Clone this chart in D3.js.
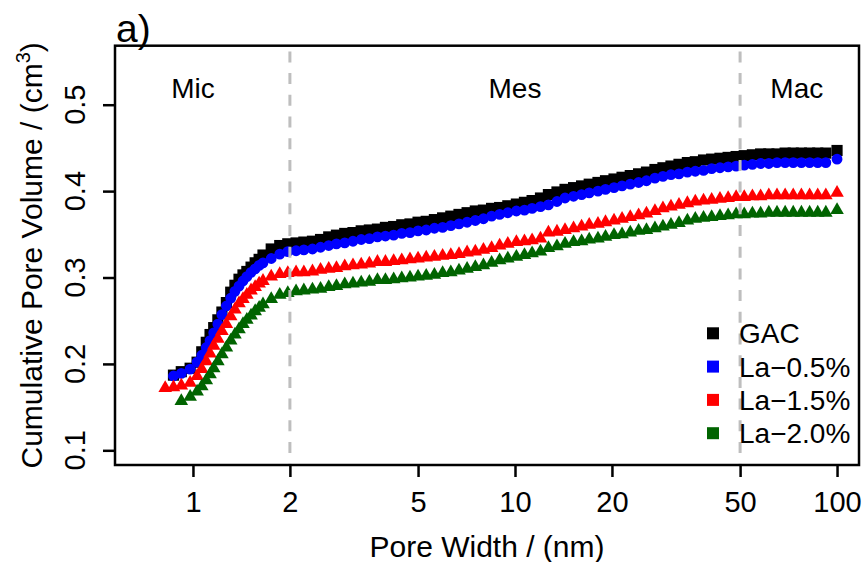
<!DOCTYPE html>
<html>
<head>
<meta charset="utf-8">
<script src="https://cdn.jsdelivr.net/npm/d3@7"></script>
<style>
  body { margin: 0; background: #fff; }
  svg { display: block; font-family: "Liberation Sans", Arial, Helvetica, sans-serif; }
</style>
</head>
<body>
<svg width="864" height="562"></svg>
<script>
// pore width (nm) and cumulative pore volume for each sample
var poreWidth = [0.82, 0.87, 0.92, 0.98, 1.03, 1.065, 1.10, 1.13, 1.16, 1.195,
  1.23, 1.27, 1.31, 1.35, 1.39, 1.43, 1.47, 1.515, 1.56, 1.605,
  1.65, 1.75, 1.86, 1.97, 2.09, 2.21, 2.35, 2.49,
  2.64, 2.79, 2.96, 3.14, 3.33, 3.53, 3.74, 3.96, 4.20, 4.45,
  4.72, 5.00, 5.30, 5.62, 5.96, 6.32, 6.70, 7.10, 7.53, 7.98,
  8.46, 8.96, 9.50, 10.1, 10.7, 11.3, 12.0, 12.7, 13.5, 14.3,
  15.2, 16.1, 17.0, 18.1, 19.1, 20.3, 21.5, 22.8, 24.2, 25.6,
  27.2, 28.8, 30.5, 32.3, 34.3, 36.3, 38.5, 40.8, 43.3, 45.9,
  48.6, 51.5, 54.6, 57.9, 61.4, 65.1, 69.0, 73.1, 77.5, 82.2,
  87.1, 92.3, 100];

var gac = [null, 0.187, 0.191, 0.195, 0.202, 0.214, 0.225, 0.234, 0.242, 0.251,
  0.260, 0.271, 0.283, 0.291, 0.298, 0.303, 0.307, 0.312, 0.317, 0.321,
  0.326, 0.333, 0.337, 0.339, 0.340, 0.341, 0.342, 0.344,
  0.347, 0.349, 0.351, 0.352, 0.354, 0.355, 0.356, 0.358, 0.359, 0.361,
  0.362, 0.364, 0.365, 0.367, 0.369, 0.371, 0.373, 0.375, 0.377, 0.378,
  0.380, 0.381, 0.383, 0.385, 0.387, 0.389, 0.392, 0.396, 0.399, 0.402,
  0.404, 0.406, 0.408, 0.410, 0.412, 0.414, 0.416, 0.418, 0.420, 0.422,
  0.425, 0.427, 0.429, 0.431, 0.433, 0.434, 0.436, 0.437, 0.438, 0.439,
  0.440, 0.441, 0.442, 0.443, 0.443, 0.443, 0.444, 0.444, 0.444, 0.444,
  0.444, 0.444, 0.447];

var la05 = [null, 0.186, 0.189, 0.194, 0.202, 0.210, 0.219, 0.227, 0.236, 0.246,
  0.257, 0.267, 0.276, 0.284, 0.290, 0.296, 0.301, 0.306, 0.310, 0.314,
  0.317, 0.322, 0.327, 0.330, 0.331, 0.332, 0.333, 0.335,
  0.337, 0.339, 0.340, 0.342, 0.344, 0.345, 0.347, 0.348, 0.349, 0.351,
  0.352, 0.354, 0.355, 0.357, 0.358, 0.360, 0.362, 0.364, 0.366, 0.368,
  0.371, 0.373, 0.375, 0.377, 0.378, 0.380, 0.382, 0.384, 0.388, 0.392,
  0.394, 0.396, 0.398, 0.400, 0.402, 0.404, 0.406, 0.408, 0.410, 0.412,
  0.415, 0.417, 0.419, 0.420, 0.422, 0.423, 0.424, 0.426, 0.427, 0.428,
  0.429, 0.430, 0.431, 0.432, 0.432, 0.433, 0.433, 0.433, 0.433, 0.433,
  0.433, 0.433, 0.437];

var la15 = [0.172, 0.173, 0.175, 0.178, 0.186, 0.194, 0.203, 0.212, 0.221, 0.229,
  0.238, 0.246, 0.255, 0.263, 0.270, 0.275, 0.280, 0.285, 0.289, 0.293,
  0.296, 0.301, 0.304, 0.305, 0.306, 0.306, 0.307, 0.309,
  0.310, 0.311, 0.313, 0.314, 0.315, 0.316, 0.318, 0.318, 0.319, 0.320,
  0.321, 0.322, 0.323, 0.324, 0.325, 0.326, 0.327, 0.329, 0.330, 0.332,
  0.334, 0.337, 0.339, 0.341, 0.342, 0.343, 0.345, 0.352, 0.353, 0.355,
  0.357, 0.359, 0.361, 0.362, 0.364, 0.366, 0.368, 0.370, 0.372, 0.374,
  0.377, 0.380, 0.382, 0.384, 0.386, 0.388, 0.389, 0.390, 0.391, 0.392,
  0.393, 0.393, 0.394, 0.394, 0.395, 0.395, 0.395, 0.395, 0.395, 0.395,
  0.395, 0.395, 0.398];

var la20 = [null, null, 0.157, 0.162, 0.168, 0.174, 0.181, 0.188, 0.195, 0.203,
  0.211, 0.219, 0.227, 0.234, 0.240, 0.246, 0.251, 0.256, 0.261, 0.265,
  0.269, 0.275, 0.280, 0.282, 0.284, 0.285, 0.286, 0.287,
  0.289, 0.290, 0.292, 0.293, 0.294, 0.295, 0.297, 0.297, 0.298, 0.299,
  0.300, 0.301, 0.302, 0.303, 0.305, 0.306, 0.308, 0.310, 0.312, 0.314,
  0.317, 0.320, 0.322, 0.324, 0.326, 0.328, 0.330, 0.334, 0.336, 0.339,
  0.341, 0.342, 0.344, 0.345, 0.347, 0.349, 0.350, 0.352, 0.354, 0.355,
  0.357, 0.359, 0.361, 0.363, 0.366, 0.368, 0.369, 0.370, 0.371, 0.372,
  0.373, 0.373, 0.374, 0.374, 0.375, 0.375, 0.375, 0.375, 0.375, 0.375,
  0.375, 0.375, 0.378];

var seriesNames = ["GAC", "La\u22120.5%", "La\u22121.5%", "La\u22122.0%"];
var seriesColors = ["#000000", "#0000ff", "#ff0000", "#006400"];
var xTicks = [1, 2, 5, 10, 20, 50, 100];
var yTicks = [0.1, 0.2, 0.3, 0.4, 0.5];
var boundaries = [2, 50];
var regionNames = ["Mic", "Mes", "Mac"];
var regionAt = [1, 10, 75];

var svg = d3.select("svg");
var plotL = 115, plotR = 859, plotT = 45.7, plotB = 465;

var x = d3.scaleLog().domain([0.5727, 117]).range([plotL, plotR]);
var y = d3.scaleLinear().domain([0.083, 0.5683]).range([plotB, plotT]);

var series = [
  {name: seriesNames[0], values: gac, color: seriesColors[0], shape: d3.symbolSquare, size: 125},
  {name: seriesNames[1], values: la05, color: seriesColors[1], shape: d3.symbolCircle, size: 92},
  {name: seriesNames[2], values: la15, color: seriesColors[2], shape: d3.symbolTriangle, size: 80},
  {name: seriesNames[3], values: la20, color: seriesColors[3], shape: d3.symbolTriangle, size: 80}
];

series.forEach(function(s){
  var pts = poreWidth.map(function(w, i){ return {w: w, v: s.values[i]}; })
    .filter(function(d){ return d.v != null; });
  svg.append("g")
    .selectAll("path")
    .data(pts)
    .enter().append("path")
      .attr("d", d3.symbol().type(s.shape).size(s.size))
      .attr("transform", function(d){ return "translate(" + x(d.w) + "," + y(d.v) + ")"; })
      .attr("fill", s.color);
});

// region boundaries
svg.append("g")
  .selectAll("line")
  .data(boundaries)
  .enter().append("line")
    .attr("x1", function(d){ return x(d); })
    .attr("x2", function(d){ return x(d); })
    .attr("y1", plotT)
    .attr("y2", plotB)
    .attr("stroke", "#bebebe")
    .attr("stroke-width", 3)
    .attr("stroke-dasharray", "11,10.7")
    .attr("stroke-dashoffset", 16);

svg.append("g")
  .selectAll("text")
  .data(regionNames)
  .enter().append("text")
    .attr("x", function(d, i){ return x(regionAt[i]); })
    .attr("y", 97.7)
    .attr("text-anchor", "middle")
    .style("font-size", "28px")
    .text(function(d){ return d; });

// axes
var xAxis = svg.append("g")
  .attr("transform", "translate(0," + plotB + ")")
  .call(d3.axisBottom(x).tickValues(xTicks).tickFormat(d3.format("d")).tickSize(12).tickPadding(14.5));
xAxis.select(".domain").remove();
xAxis.selectAll("line").attr("stroke-width", 2.5);
xAxis.attr("font-family", null).attr("font-size", null);
xAxis.selectAll("text").style("font-size", "29px").attr("fill", "#000");

var yAxis = svg.append("g")
  .attr("transform", "translate(" + plotL + ",0)")
  .call(d3.axisLeft(y).tickValues(yTicks).tickSize(12).tickFormat(""));
yAxis.select(".domain").remove();
yAxis.selectAll("line").attr("stroke-width", 2.5);

svg.append("g")
  .selectAll("text")
  .data(yTicks)
  .enter().append("text")
    .attr("transform", function(d){ return "translate(85," + y(d) + ") rotate(-90)"; })
    .attr("text-anchor", "middle")
    .style("font-size", "29px")
    .text(function(d){ return d3.format(".1f")(d); });

svg.append("rect")
  .attr("x", plotL)
  .attr("y", plotT)
  .attr("width", plotR - plotL)
  .attr("height", plotB - plotT)
  .attr("fill", "none")
  .attr("stroke", "#000")
  .attr("stroke-width", 2.5);

svg.append("text")
  .attr("x", (plotL + plotR) / 2)
  .attr("y", 557)
  .attr("text-anchor", "middle")
  .style("font-size", "30px")
  .text("Pore Width / (nm)");

var ylab = svg.append("text")
  .attr("transform", "translate(42," + (plotT + plotB) / 2 + ") rotate(-90)")
  .attr("text-anchor", "middle")
  .style("font-size", "30px");
ylab.append("tspan").text("Cumulative Pore Volume / (cm");
ylab.append("tspan").attr("dy", -12).style("font-size", "20px").text("3");
ylab.append("tspan").attr("dy", 12).text(")");

svg.append("text")
  .attr("x", 116)
  .attr("y", 41.7)
  .style("font-size", "39px")
  .text("a)");

// legend
var legend = svg.selectAll(".legend")
  .data(series)
  .enter().append("g")
    .attr("class", "legend")
    .attr("transform", function(d, i){ return "translate(713," + (333.3 + i * 33.3) + ")"; });

legend.append("rect")
  .attr("x", -6)
  .attr("y", -6)
  .attr("width", 12)
  .attr("height", 12)
  .attr("fill", function(d){ return d.color; });

legend.append("text")
  .attr("x", 26)
  .attr("y", 10)
  .style("font-size", "28px")
  .text(function(d){ return d.name; });
</script>
</body>
</html>
